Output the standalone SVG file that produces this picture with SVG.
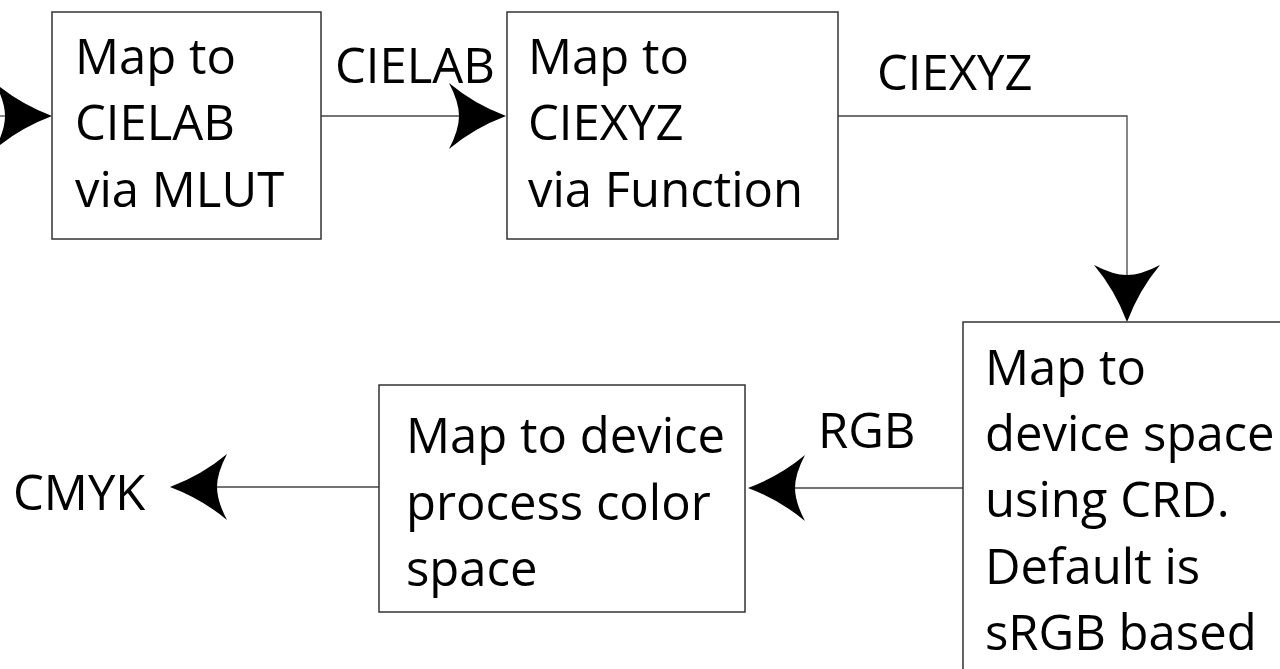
<svg xmlns="http://www.w3.org/2000/svg" xmlns:xlink="http://www.w3.org/1999/xlink" width="1280" height="669" viewBox="0 0 1280 669">
<style>
.box{fill:#fff;stroke:#333;stroke-width:1.5}
.ln{fill:none;stroke:#444;stroke-width:1.3}
.ah{fill:#000}
text{font-family:"Open Sans","Noto Sans","Liberation Sans",sans-serif;font-size:49px;fill:#000}
</style>
<defs>
<path id="arrow" d="M0,0 Q-32,-12 -57,-33 Q-47,-14 -47,0 Q-47,14 -57,33 Q-32,12 0,0 Z"/>
</defs>
<rect width="1280" height="669" fill="#fff"/>
<g id="connectors">
<line class="ln" x1="0" y1="116" x2="10" y2="116"/>
<use href="#arrow" class="ah" transform="translate(52,116)"/>
<line class="ln" x1="321" y1="116" x2="462" y2="116"/>
<use href="#arrow" class="ah" transform="translate(506,116)"/>
<polyline class="ln" points="838,116 1127,116 1127,278"/>
<use href="#arrow" class="ah" transform="translate(1127,322) rotate(90)"/>
<line class="ln" x1="963" y1="488" x2="793" y2="488"/>
<use href="#arrow" class="ah" transform="translate(748,488) rotate(180)"/>
<line class="ln" x1="379" y1="487" x2="215" y2="487"/>
<use href="#arrow" class="ah" transform="translate(170,487) rotate(180)"/>
<text x="335" y="83">CIELAB</text>
<text x="877" y="90">CIEXYZ</text>
<text x="818" y="448">RGB</text>
<text x="13" y="510">CMYK</text>
</g>
<g id="node-mlut">
<rect class="box" x="52" y="12" width="269" height="227"/>
<text x="75" y="74">Map to</text>
<text x="75" y="140">CIELAB</text>
<text x="75" y="207">via MLUT</text>
</g>
<g id="node-function">
<rect class="box" x="507" y="12" width="331" height="227"/>
<text x="528" y="74">Map to</text>
<text x="528" y="140">CIEXYZ</text>
<text x="528" y="207">via Function</text>
</g>
<g id="node-crd">
<rect class="box" x="963" y="322" width="340" height="360"/>
<text x="985" y="385">Map to</text>
<text x="985" y="451">device space</text>
<text x="985" y="517">using CRD.</text>
<text x="985" y="584">Default is</text>
<text x="985" y="650">sRGB based</text>
</g>
<g id="node-process">
<rect class="box" x="379" y="385" width="366" height="227"/>
<text x="406" y="453">Map to device</text>
<text x="406" y="520">process color</text>
<text x="406" y="586">space</text>
</g>
</svg>
